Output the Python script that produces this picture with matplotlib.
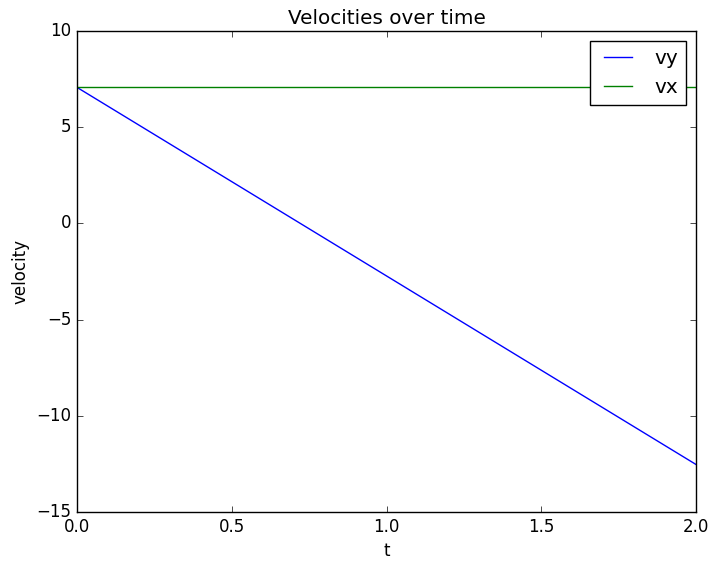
import matplotlib
matplotlib.use("Agg")
import matplotlib.pyplot as plt

t = [0.0, 0.5, 1.0, 1.5, 2.0]
vy = [7.07, 2.17, -2.73, -7.63, -12.53]
vx = [7.07, 7.07, 7.07, 7.07, 7.07]

plt.style.use('classic')
fig = plt.figure(figsize=(7.18, 5.70), dpi=100, facecolor='white')
ax = fig.add_axes([77/718, 1-512/570, (696-77)/718, (512-31)/570])
ax.plot(t, vy, color='b', label='vy')
ax.plot(t, vx, color='g', label='vx')
ax.set_xlim(0, 2)
ax.set_ylim(-15, 10)
ax.set_title('Velocities over time')
ax.set_xlabel('t')
ax.set_ylabel('velocity')
ax.legend(loc='upper right')
fig.savefig('out.png', dpi=100, facecolor='white')
